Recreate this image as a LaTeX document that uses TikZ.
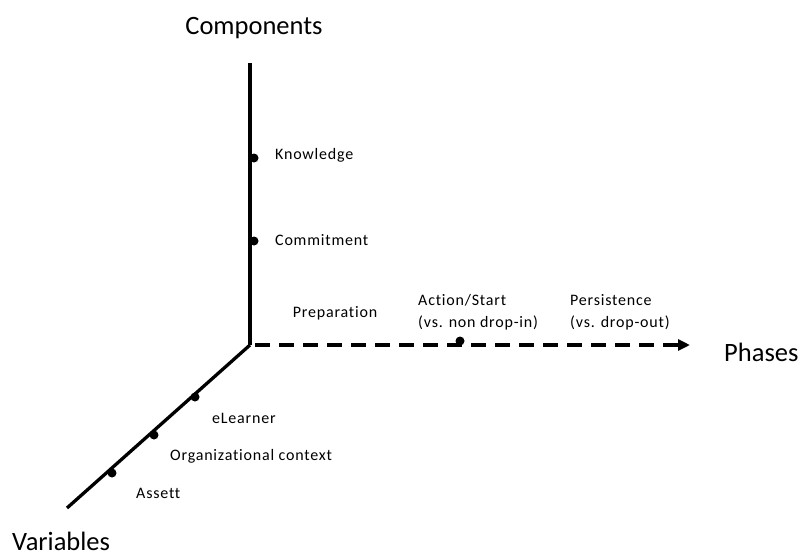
\documentclass[tikz,border=0pt]{standalone}
\usepackage{fontspec}
\setmainfont{Carlito}
\newfontfamily\lblfont[LetterSpace=5,Ligatures=NoCommon]{Carlito}
\usetikzlibrary{arrows.meta}
\begin{document}
\begin{tikzpicture}[x=1pt,y=-1pt,
  axis/.style={line width=3.3pt},
  phaseaxis/.style={line width=3.8pt, dash pattern=on 15pt off 9pt, -{Triangle[length=12pt,width=11pt]}},
  marker/.style={circle, fill=black, inner sep=0pt, minimum size=9pt},
  lbl/.style={font=\lblfont\fontsize{16}{18}\selectfont, inner sep=0pt, anchor=west, text=black},
  axistitle/.style={font=\fontsize{26.5}{30}\selectfont, inner sep=0pt}
]
\useasboundingbox (0,0) rectangle (800,557);

% axes
\coordinate (origin) at (250,345);
\coordinate (ctop) at (250,63);
\coordinate (pend) at (690,345);
\coordinate (vend) at (67,508);
\draw[axis] (origin) -- (ctop);
\draw[axis] (origin) -- (vend);
\draw[phaseaxis] ([xshift=5pt]origin) -- (pend);

% axis titles
\node[axistitle, anchor=center] (comp) at (254,28) {Components};
\node[axistitle, anchor=west] (phases) at (724,352) {Phases};
\node[axistitle, anchor=west] (vars) at (12,541) {Variables};

% components
\node[marker] (dknow) at (254,158) {};
\node[marker] (dcomm) at (254,241) {};
\node[lbl] (know) at (275,155) {Knowledge};
\node[lbl] (comm) at (275,240) {Commitment};

% phases
\node[marker] (daction) at (460,341) {};
\node[lbl, anchor=center] (prep) at (335,313) {Preparation};
\node[lbl] (act1) at (418,300) {Action/Start};
\node[lbl] (act2) at (418,323) {(vs. non drop-in)};
\node[lbl] (pers1) at (570,300) {Persistence};
\node[lbl] (pers2) at (570,323) {(vs. drop-out)};

% variables
\node[marker] (dlearn) at (195,397) {};
\node[marker] (dorg) at (154,435) {};
\node[marker] (dasset) at (112,473) {};
\node[lbl] (learn) at (212,418) {eLearner};
\node[lbl] (org) at (170,456) {Organizational context};
\node[lbl] (asset) at (136,493) {Assett};
\end{tikzpicture}
\end{document}
